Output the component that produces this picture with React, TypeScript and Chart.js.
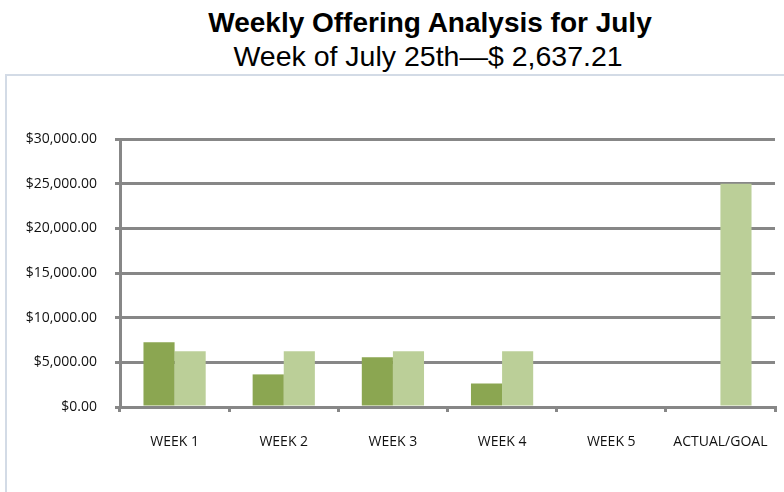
import React, { useEffect, useRef } from "react";
import { Chart, registerables } from "chart.js";

Chart.register(...registerables);

const categories = ["WEEK 1", "WEEK 2", "WEEK 3", "WEEK 4", "WEEK 5", "ACTUAL/GOAL"];
const actualValues: (number | null)[] = [7250, 3650, 5560, 2637.21, 0, null];
const goalValues: (number | null)[] = [6250, 6250, 6250, 6250, 0, 25000];
const yMin = 0;
const yMax = 30000;
const yStep = 5000;

const titleText = "Weekly Offering Analysis for July";
const subtitleText = "Week of July 25th\u2014$ 2,637.21";

const GRID = "#878787";
const TICK_FONT = { family: "'Open Sans', sans-serif", size: 14 };

export default function App() {
  const ref = useRef<HTMLCanvasElement | null>(null);

  useEffect(() => {
    if (!ref.current) return;
    const chart = new Chart(ref.current, {
      type: "bar",
      data: {
        labels: categories,
        datasets: [
          {
            label: "Actual",
            data: actualValues,
            backgroundColor: "#8ba651",
            borderWidth: 0,
            categoryPercentage: 0.57,
            barPercentage: 1.0,
          },
          {
            label: "Goal",
            data: goalValues,
            backgroundColor: "#bbcf98",
            borderWidth: 0,
            categoryPercentage: 0.57,
            barPercentage: 1.0,
          },
        ],
      },
      options: {
        responsive: false,
        animation: false,
        layout: { padding: { top: 139, right: 9, bottom: 0, left: 0 } },
        plugins: {
          legend: { display: false },
          title: { display: false },
          tooltip: { enabled: false },
        },
        scales: {
          x: {
            afterFit: (s: any) => {
              s.height = 85;
              s.paddingLeft = 0;
              s.paddingRight = 0;
            },
            grid: {
              display: true,
              drawOnChartArea: false,
              drawTicks: true,
              tickLength: 5,
              lineWidth: 3,
              color: GRID,
              offset: true,
            },
            border: { display: true, color: GRID, width: 3 },
            ticks: {
              color: "#111",
              font: TICK_FONT,
              padding: 22,
              maxRotation: 0,
              autoSkip: false,
            },
          },
          y: {
            min: yMin,
            max: yMax,
            afterFit: (s: any) => {
              s.width = 120;
            },
            grid: {
              display: true,
              drawOnChartArea: true,
              drawTicks: true,
              tickLength: 5,
              lineWidth: 3,
              color: GRID,
            },
            border: { display: true, color: GRID, width: 3 },
            ticks: {
              stepSize: yStep,
              color: "#111",
              font: TICK_FONT,
              padding: 18,
              callback: (v: any) =>
                "$" +
                Number(v).toLocaleString("en-US", {
                  minimumFractionDigits: 2,
                  maximumFractionDigits: 2,
                }),
            },
          },
        },
      },
    });
    return () => chart.destroy();
  }, []);

  return (
    <div
      style={{
        position: "fixed",
        left: 0,
        top: 0,
        width: 784,
        height: 492,
        overflow: "hidden",
        background: "#fff",
      }}
    >
      <div
        style={{
          position: "absolute",
          left: 5,
          top: 74,
          width: 900,
          height: 600,
          borderTop: "2px solid #d3dbe6",
          borderLeft: "2px solid #d3dbe6",
        }}
      />
      <div
        style={{
          position: "absolute",
          left: 0,
          width: 860,
          top: 9,
          textAlign: "center",
          font: "bold 28px 'Liberation Sans', Arial, sans-serif",
          lineHeight: "28px",
          color: "#000",
          whiteSpace: "nowrap",
        }}
      >
        {titleText}
      </div>
      <div
        style={{
          position: "absolute",
          left: 0,
          width: 856,
          top: 42,
          textAlign: "center",
          font: "28.5px 'Liberation Sans', Arial, sans-serif",
          lineHeight: "28px",
          color: "#000",
          whiteSpace: "nowrap",
        }}
      >
        {subtitleText}
      </div>
      <canvas
        ref={ref}
        width={784}
        height={492}
        style={{ position: "absolute", left: 0, top: 0, width: 784, height: 492 }}
      />
    </div>
  );
}
